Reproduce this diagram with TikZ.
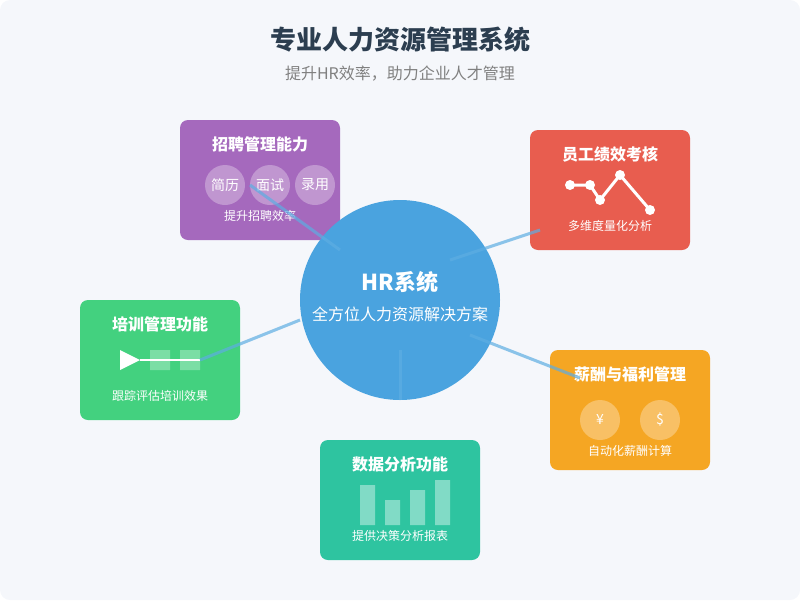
\documentclass[tikz,border=0pt]{standalone}
\usepackage{fontspec}
\setmainfont{Noto Sans CJK SC}
\begin{document}
\begin{tikzpicture}[x=1pt,y=-1pt,
  card/.style={rounded corners=8pt,draw=none},
  ttl/.style={text=white,font=\fontsize{16}{18}\selectfont\bfseries},
  sub/.style={text=white,font=\fontsize{12}{14}\selectfont},
  link/.style={draw=blue!45!cyan!70!black,line width=3pt,opacity=0.55},
  dot/.style={circle,fill=white,fill opacity=0.3,minimum size=40pt,inner sep=0pt,text opacity=1,text=white,font=\fontsize{14}{16}\selectfont}]
\definecolor{bg}{HTML}{F5F7FB}
\definecolor{cblue}{HTML}{4AA3DF}
\definecolor{cpur}{HTML}{A569BD}
\definecolor{cred}{HTML}{E85D4F}
\definecolor{cgrn}{HTML}{43D17F}
\definecolor{corg}{HTML}{F5A623}
\definecolor{ctea}{HTML}{2EC4A0}
\definecolor{ctitle}{HTML}{2C3E50}
\definecolor{lnk}{HTML}{5DADE2}
\useasboundingbox (0,0) rectangle (800,600);
\fill[bg,rounded corners=10pt] (0,0) rectangle (800,600);
\node[font=\fontsize{26}{30}\selectfont\bfseries,text=ctitle] (title) at (400,40) {专业人力资源管理系统};
\node[font=\fontsize{16}{18}\selectfont,text=gray] (subt) at (400,74) {提升HR效率，助力企业人才管理};
% boxes
\fill[card,cpur] (180,120) rectangle (340,240);
\fill[card,cred] (530,130) rectangle (690,250);
\fill[card,cgrn] (80,300) rectangle (240,420);
\fill[card,corg] (550,350) rectangle (710,470);
\fill[card,ctea] (320,440) rectangle (480,560);
\node[circle,fill=cblue,minimum size=200pt,inner sep=0pt] (hub) at (400,300) {};
% purple
\node[ttl] (pt) at (260,144) {招聘管理能力};
\node[dot] (p1) at (225,185) {简历};
\node[dot] (p2) at (270,185) {面试};
\node[dot] (p3) at (315,185) {录用};
\node[sub] (ps) at (260,216) {提升招聘效率};
% red
\node[ttl] (rt) at (610,154) {员工绩效考核};
\coordinate (r1) at (570,185); \coordinate (r2) at (590,185); \coordinate (r3) at (600,200);
\coordinate (r4) at (620,175); \coordinate (r5) at (650,210);
\draw[white,line width=3pt] (r1)--(r2)--(r3)--(r4)--(r5);
\foreach \p in {r1,r2,r3,r4,r5} \fill[white] (\p) circle (5pt);
\node[sub] (rs) at (610,226) {多维度量化分析};
% green
\node[ttl] (gt) at (160,324) {培训管理功能};
\fill[white] (120,350)--(140,360)--(120,370)--cycle;
\fill[white,opacity=0.3] (150,350) rectangle (170,370) (180,350) rectangle (200,370);
\coordinate (g1) at (140,360); \coordinate (g2) at (200,360);
\draw[white,line width=2pt] (g1)--(g2);
\node[sub] (gs) at (160,396) {跟踪评估培训效果};
% orange
\node[ttl] (ot) at (630,374) {薪酬与福利管理};
\node[dot] (o1) at (600,420) {¥};
\node[dot] (o2) at (660,420) {\$};
\node[sub] (os) at (630,451) {自动化薪酬计算};
% teal
\node[ttl] (tt) at (400,464) {数据分析功能};
\fill[white,opacity=0.4] (360,485) rectangle (375,525) (385,500) rectangle (400,525)
  (410,490) rectangle (425,525) (435,480) rectangle (450,525);
\node[sub] (ts) at (400,536) {提供决策分析报表};
% hub text
\node[text=white,font=\fontsize{22}{26}\selectfont\bfseries] (ht) at (400,282) {HR系统};
\node[text=white,font=\fontsize{16}{18}\selectfont] (hs) at (400,314) {全方位人力资源解决方案};
% links
\coordinate (a1) at (340,250); \coordinate (b1) at (250,185);
\coordinate (a2) at (450,260); \coordinate (b2) at (540,230);
\coordinate (a3) at (300,320); \coordinate (b3) at (200,360);
\coordinate (a4) at (470,335); \coordinate (b4) at (580,378);
\coordinate (a5) at (400,350); \coordinate (b5) at (400,400);
\foreach \a/\b in {a1/b1,a2/b2,a3/b3,a4/b4,a5/b5}
  \draw[lnk,line width=3pt,opacity=0.7] (\a)--(\b);
\end{tikzpicture}
\end{document}
